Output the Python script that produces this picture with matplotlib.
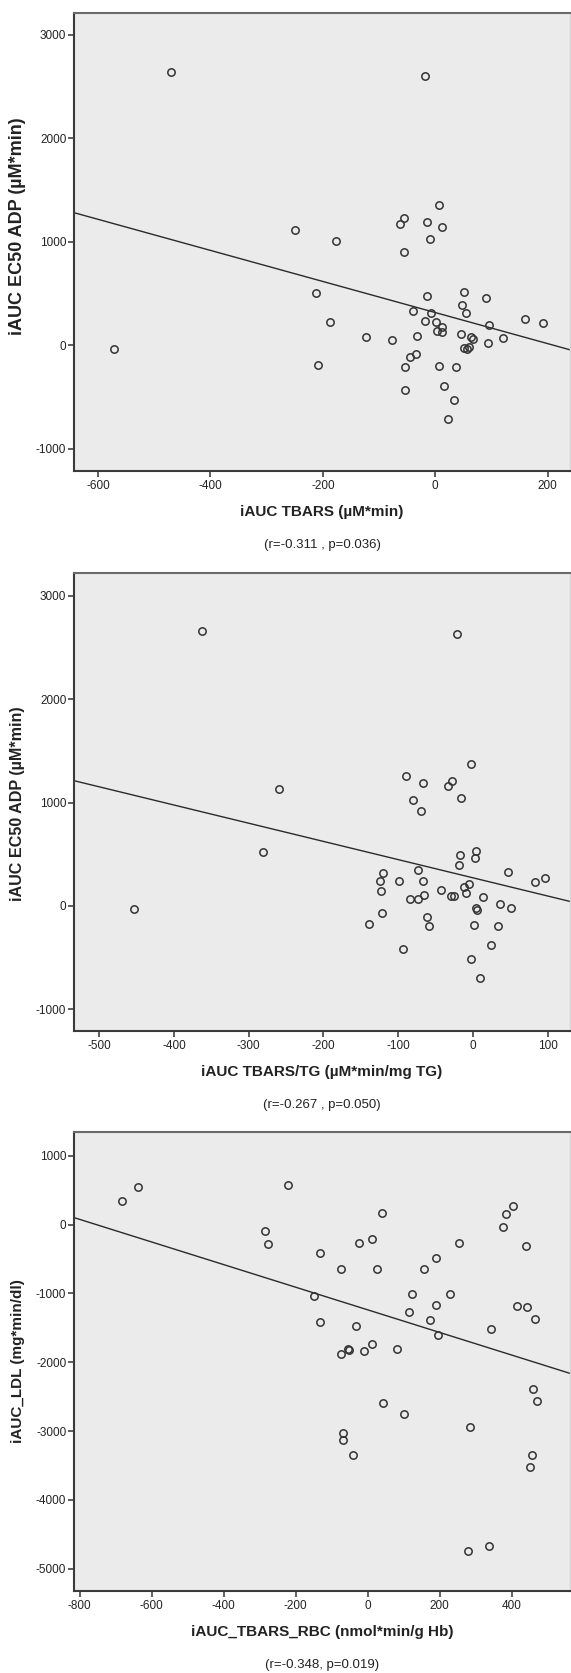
import numpy as np
import matplotlib
matplotlib.use('Agg')
import matplotlib.pyplot as plt

plt.rcParams['font.family'] = ['Liberation Sans', 'DejaVu Sans']
plt.rcParams['axes.unicode_minus'] = False

# TBARS vs EC50 ADP
tbars = [-470, -571, -18, 6, -55, -63, -14, 12, -10, -55,
         -250, -177, -212, -14, 51, 91, 48, -40, -8, 54,
         -187, -19, 2, 13, 95, 160, 192, 3, 12, -123,
         -77, -33, 46, 64, 68, 94, 121, 52, 61, 56,
         -34, -45, -208, -53, 6, 37, -54, 16, 34, 23]
ec50_a = [2640, -39, 2605, 1355, 1234, 1176, 1195, 1143, 1031, 901,
          1114, 1011, 505, 480, 512, 461, 384, 331, 309, 316,
          222, 232, 225, 174, 193, 258, 219, 142, 129, 84,
          51, 90, 113, 80, 58, 19, 71, -26, -19, -35,
          -84, -116, -193, -206, -200, -213, -435, -390, -525, -715]

# TBARS/TG vs EC50 ADP
tbars_tg = [-363, -260, -281, -454, -21, -2, -89, -67, -28, -33,
            -16, -80, -69, -17, 4, -18, 3, -74, -121, 47,
            -125, -99, -67, -123, -84, -73, -66, -43, -29, -25,
            -12, -5, -9, 13, 83, 97, 36, 51, 4, 6,
            -122, -62, -139, -59, 1, 34, -94, 24, -2, 10]
ec50_b = [2662, 1133, 520, -26, 2626, 1372, 1252, 1191, 1210, 1159,
          1045, 1023, 917, 494, 530, 397, 462, 346, 322, 329,
          242, 245, 239, 142, 71, 65, 109, 158, 94, 100,
          187, 210, 123, 87, 229, 274, 23, -20, -25, -40,
          -68, -104, -177, -191, -184, -197, -419, -374, -513, -700]

# TBARS_RBC vs LDL
tbars_rbc = [-682, -638, -284, -277, -221, 39, 404, 383, 377, -25,
             11, 254, 441, -132, -73, 25, 191, 156, -148, 123,
             229, 116, 191, 416, 443, 465, -133, -33, 173, 343,
             194, -75, -54, -52, -10, 11, 81, 458, 470, 43,
             102, 284, -69, -69, -41, 457, 450, 278, 338]
ldl = [349, 548, -87, -276, 573, 175, 272, 151, -29, -266,
       -213, -261, -315, -416, -649, -649, -484, -644, -1037, -1008,
       -1008, -1265, -1167, -1182, -1192, -1376, -1410, -1477, -1381, -1516,
       -1608, -1880, -1807, -1815, -1836, -1739, -1807, -2389, -2559, -2592,
       -2757, -2946, -3024, -3130, -3348, -3348, -3523, -4744, -4667]

xlabels = ['iAUC TBARS (µM*min)', 'iAUC TBARS/TG (µM*min/mg TG)',
           'iAUC_TBARS_RBC (nmol*min/g Hb)']
ylabels = ['iAUC EC50 ADP (µM*min)', 'iAUC EC50 ADP (µM*min)',
           'iAUC_LDL (mg*min/dl)']
captions = ['(r=-0.311 , p=0.036)', '(r=-0.267 , p=0.050)', '(r=-0.348, p=0.019)']
xticks = [[-600, -400, -200, 0, 200],
          [-500, -400, -300, -200, -100, 0, 100],
          [-800, -600, -400, -200, 0, 200, 400]]
yticks = [[-1000, 0, 1000, 2000, 3000],
          [-1000, 0, 1000, 2000, 3000],
          [-5000, -4000, -3000, -2000, -1000, 0, 1000]]
xlims = [(-643, 240), (-534, 130), (-816, 562)]
ylims = [(-1215, 3210), (-1210, 3220), (-5326, 1348)]

W, H = 571, 1673
fig = plt.figure(figsize=(W / 100, H / 100), dpi=100)
fig.patch.set_facecolor('white')

# panel frames in pixels: (top, bottom)
frames = [(13, 471), (573, 1031), (1132, 1591)]
left_px, right_px = 74, 570
# y-label size and vertical shift (pixels, up) per panel
ylab_size = [13, 11.6, 11]
ylab_shift = [16, -2, 0]

series = [(tbars, ec50_a), (tbars_tg, ec50_b), (tbars_rbc, ldl)]

for i, (xs, ys) in enumerate(series):
    top, bot = frames[i]
    ax = fig.add_axes([left_px / W, 1 - bot / H,
                       (right_px - left_px) / W, (bot - top) / H])
    ax.set_facecolor('#ebebeb')
    ax.set_xlim(*xlims[i])
    ax.set_ylim(*ylims[i])

    xs = np.array(xs, dtype=float)
    ys = np.array(ys, dtype=float)
    ax.plot(xs, ys, 'o', mfc='none', mec='#333333', ms=5.3, mew=1.1, zorder=3)

    # least-squares fit line across the whole axis
    slope, icpt = np.polyfit(xs, ys, 1)
    lx = np.array(xlims[i])
    ax.plot(lx, icpt + slope * lx, color='#2a2a2a', lw=1.0, zorder=2)

    ax.set_xticks(xticks[i])
    ax.set_yticks(yticks[i])
    ax.tick_params(direction='out', length=4.5, width=1.1, color='#333333',
                   labelsize=8.5, labelcolor='#222222')
    ax.tick_params(axis='x', pad=2)
    ax.tick_params(axis='y', pad=1)

    for s in ['left', 'bottom']:
        ax.spines[s].set_color('#3a3a3a')
        ax.spines[s].set_linewidth(1.5)
    ax.spines['top'].set_color('#6a6a6a')
    ax.spines['top'].set_linewidth(1.5)
    ax.spines['right'].set_color('#d6d6d6')
    ax.spines['right'].set_linewidth(1.0)

    ax.annotate(xlabels[i], xy=(0.5, 0), xycoords='axes fraction',
                xytext=(0, -41), textcoords='offset pixels',
                ha='center', va='center', fontsize=11, fontweight='bold',
                color='#222222')
    ax.annotate(captions[i], xy=(0.5, 0), xycoords='axes fraction',
                xytext=(0, -74), textcoords='offset pixels',
                ha='center', va='center', fontsize=9.5, color='#222222')
    ax.annotate(ylabels[i], xy=(0, 0.5), xycoords='axes fraction',
                xytext=(18 - left_px, ylab_shift[i]), textcoords='offset pixels',
                ha='center', va='center', rotation=90,
                fontsize=ylab_size[i], fontweight='bold', color='#222222')

fig.savefig('out.png', dpi=100, facecolor='white')
